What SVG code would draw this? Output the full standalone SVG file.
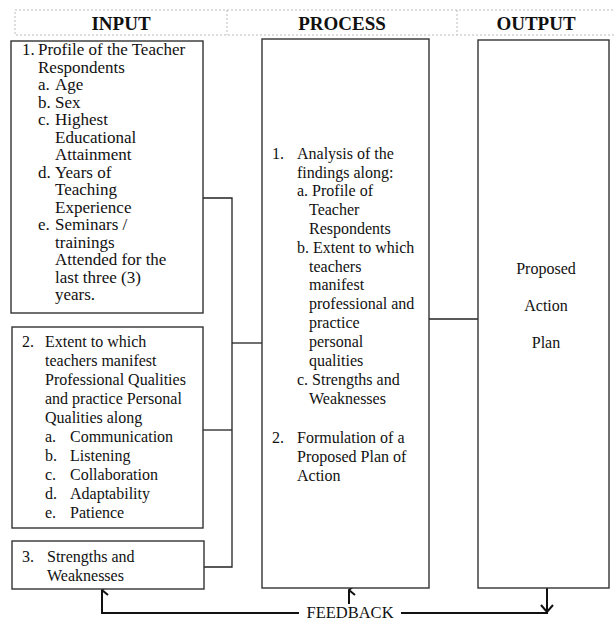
<svg xmlns="http://www.w3.org/2000/svg" width="615" height="622" viewBox="0 0 615 622">
<defs>
<style>
.t{font-family:"Liberation Serif","Times New Roman",serif;font-size:16px;fill:#111}
.b1{font-size:17px}
.h{font-family:"Liberation Serif","Times New Roman",serif;font-size:19px;font-weight:bold;fill:#111;text-anchor:middle}
.box{fill:#fff;stroke:#333;stroke-width:1.4}
.hdr{fill:none;stroke:#bbb;stroke-width:1;stroke-dasharray:2,2}
.ln{fill:none;stroke:#222;stroke-width:1.3}
.fb{fill:none;stroke:#111;stroke-width:2}
</style>
<marker id="ah" viewBox="0 0 12 12" refX="6" refY="1" markerWidth="12" markerHeight="12" markerUnits="userSpaceOnUse" orient="auto">
<path d="M1,7 L6,1 L11,7" fill="none" stroke="#111" stroke-width="2"/>
</marker>
</defs>
<rect width="615" height="622" fill="#fff"/>
<g id="header">
<rect class="hdr" x="15" y="10" width="605" height="25"/>
<line class="hdr" x1="227" y1="10" x2="227" y2="35"/>
<line class="hdr" x1="457" y1="10" x2="457" y2="35"/>
<text class="h" x="121" y="30">INPUT</text>
<text class="h" x="342" y="30">PROCESS</text>
<text class="h" x="536" y="30">OUTPUT</text>
</g>
<g id="connectors">
<polyline class="ln" points="203,198 232,198 232,567 204,567"/>
<line class="ln" x1="203" y1="430" x2="232" y2="430"/>
<line class="ln" x1="232" y1="343" x2="262" y2="343"/>
<line class="ln" x1="429" y1="319" x2="478" y2="319"/>
<polyline class="fb" points="547,588 547,613 401,613"/>
<path class="fb" d="M541,605 L547,612 L553,605"/>
<polyline class="fb" points="299,613 102,613 102,590" marker-end="url(#ah)"/>
<line class="fb" x1="349" y1="604" x2="349" y2="590" marker-end="url(#ah)"/>
</g>
<g id="input1">
<rect class="box" x="11" y="41" width="192" height="272"/>
<text class="t b1" x="22" y="55">1.</text>
<text class="t b1" x="38" y="55">Profile of the Teacher</text>
<text class="t b1" x="38" y="72.5">Respondents</text>
<text class="t b1" x="38" y="90">a.</text><text class="t b1" x="55" y="90">Age</text>
<text class="t b1" x="38" y="107.5">b.</text><text class="t b1" x="55" y="107.5">Sex</text>
<text class="t b1" x="38" y="125">c.</text><text class="t b1" x="55" y="125">Highest</text>
<text class="t b1" x="55" y="142.5">Educational</text>
<text class="t b1" x="55" y="160">Attainment</text>
<text class="t b1" x="38" y="177.5">d.</text><text class="t b1" x="55" y="177.5">Years of</text>
<text class="t b1" x="55" y="195">Teaching</text>
<text class="t b1" x="55" y="212.5">Experience</text>
<text class="t b1" x="38" y="230">e.</text><text class="t b1" x="55" y="230">Seminars /</text>
<text class="t b1" x="55" y="247.5">trainings</text>
<text class="t b1" x="55" y="265">Attended for the</text>
<text class="t b1" x="55" y="282.5">last three (3)</text>
<text class="t b1" x="55" y="300">years.</text>
</g>
<g id="input2">
<rect class="box" x="12" y="327" width="191" height="201"/>
<text class="t" x="22" y="347">2.</text>
<text class="t" x="45" y="347">Extent to which</text>
<text class="t" x="45" y="366">teachers manifest</text>
<text class="t" x="45" y="385">Professional Qualities</text>
<text class="t" x="45" y="404">and practice Personal</text>
<text class="t" x="45" y="423">Qualities along</text>
<text class="t" x="45" y="442">a.</text><text class="t" x="70" y="442">Communication</text>
<text class="t" x="45" y="461">b.</text><text class="t" x="70" y="461">Listening</text>
<text class="t" x="45" y="480">c.</text><text class="t" x="70" y="480">Collaboration</text>
<text class="t" x="45" y="499">d.</text><text class="t" x="70" y="499">Adaptability</text>
<text class="t" x="45" y="518">e.</text><text class="t" x="70" y="518">Patience</text>
</g>
<g id="input3">
<rect class="box" x="12" y="541" width="192" height="48"/>
<text class="t" x="22" y="562">3.</text>
<text class="t" x="47" y="562">Strengths and</text>
<text class="t" x="47" y="581">Weaknesses</text>
</g>
<g id="process">
<rect class="box" x="262" y="39" width="167" height="549"/>
<text class="t" x="272" y="159">1.</text>
<text class="t" x="297" y="159">Analysis of the</text>
<text class="t" x="297" y="178">findings along:</text>
<text class="t" x="297" y="196">a. Profile of</text>
<text class="t" x="309" y="215">Teacher</text>
<text class="t" x="309" y="234">Respondents</text>
<text class="t" x="297" y="253">b. Extent to which</text>
<text class="t" x="309" y="272">teachers</text>
<text class="t" x="309" y="290">manifest</text>
<text class="t" x="309" y="309">professional and</text>
<text class="t" x="309" y="328">practice</text>
<text class="t" x="309" y="347">personal</text>
<text class="t" x="309" y="366">qualities</text>
<text class="t" x="297" y="385">c. Strengths and</text>
<text class="t" x="309" y="404">Weaknesses</text>
<text class="t" x="272" y="443">2.</text>
<text class="t" x="297" y="443">Formulation of a</text>
<text class="t" x="297" y="462">Proposed Plan of</text>
<text class="t" x="297" y="481">Action</text>
</g>
<g id="output">
<rect class="box" x="478" y="40" width="131" height="548"/>
<text class="t" x="546" y="274" text-anchor="middle">Proposed</text>
<text class="t" x="546" y="311" text-anchor="middle">Action</text>
<text class="t" x="546" y="348" text-anchor="middle">Plan</text>
</g>
<g id="feedback">
<text class="t" x="350" y="618" text-anchor="middle" style="font-size:16.5px">FEEDBACK</text>
</g>
</svg>
